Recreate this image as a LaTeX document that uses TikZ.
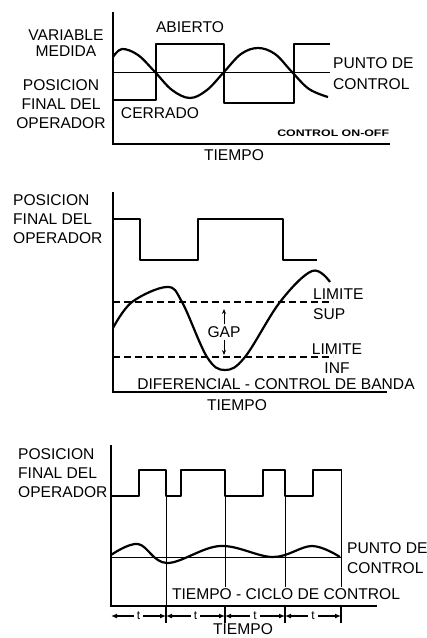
\documentclass[tikz,border=0pt]{standalone}
\usepackage{fontspec}
\setmainfont{Liberation Sans}
\usetikzlibrary{arrows.meta}
\tikzset{
  lbl/.style={inner sep=0pt, font=\fontsize{15.6}{19}\selectfont},
  axis/.style={line width=1.8pt},
  wave/.style={line width=2.2pt, line join=round},
  setline/.style={line width=1pt},
  band/.style={line width=1.6pt, dash pattern=on 7pt off 4pt},
  guide/.style={line width=0.8pt},
  tick/.style={line width=1.4pt}
}
\begin{document}
\begin{tikzpicture}[x=1pt,y=-1pt]
      \useasboundingbox (0,0) rectangle (427,638);
      \draw
        (113,12) coordinate (top1)
        (113,144) coordinate (org1)
        (390,144) coordinate (end1)
        (113,72) coordinate (spl1)
        (330,72) coordinate (spr1)
        (113,192) coordinate (top2)
        (113,392) coordinate (org2)
        (387,392) coordinate (end2)
        (113,302) coordinate (supl)
        (333,302) coordinate (supr)
        (113,357) coordinate (infl)
        (333,357) coordinate (infr)
        (224,309) coordinate (gapup)
        (224,355) coordinate (gapdn)
        (111,445) coordinate (top3)
        (111,606) coordinate (org3)
        (377,606) coordinate (end3)
        (111,557) coordinate (spl3)
        (341,557) coordinate (spr3);
      \draw
        (66,43) node[lbl, align=center, font=\fontsize{15.6}{16}\selectfont] (var){VARIABLE\\MEDIDA}
        (61,104) node[lbl, align=center] (pos1){POSICION\\FINAL DEL\\OPERADOR}
        (190,27) node[lbl] (abierto){ABIERTO}
        (160,113) node[lbl] (cerrado){CERRADO}
        (333,74) node[lbl, anchor=west, align=left, font=\fontsize{15.6}{21}\selectfont] (pc1){PUNTO DE\\CONTROL}
        (277,133) node[lbl, anchor=west, xscale=1.3, font=\fontsize{9.5}{11}\selectfont\bfseries] (onoff){CONTROL ON-OFF}
        (234,155) node[lbl] (tiempo1){TIEMPO}
        (13,219) node[lbl, anchor=west, align=left] (pos2){POSICION\\FINAL DEL\\OPERADOR}
        (313,304) node[lbl, anchor=west, align=left, font=\fontsize{15.6}{20}\selectfont] (sup){LIMITE\\SUP}
        (337,359) node[lbl, align=center, font=\fontsize{15.6}{19}\selectfont] (inf){LIMITE\\INF}
        (224,332) node[lbl, inner sep=2pt] (gap){GAP}
        (276,384) node[lbl] (dif){DIFERENCIAL - CONTROL DE BANDA}
        (237,405) node[lbl] (tiempo2){TIEMPO}
        (18,473) node[lbl, anchor=west, align=left] (pos3){POSICION\\FINAL DEL\\OPERADOR}
        (347,558) node[lbl, anchor=west, align=left, font=\fontsize{15.6}{20}\selectfont] (pc3){PUNTO DE\\CONTROL}
        (286,594) node[lbl] (ciclo){TIEMPO - CICLO DE CONTROL}
        (243,629.5) node[lbl] (tiempo3){TIEMPO};
      \draw[axis] (top1) -- (org1) -- (end1);
      \draw[axis] (top2) -- (org2) -- (end2);
      \draw[axis] (top3) -- (org3) -- (end3);
      \draw[setline] (spl1) -- (spr1);
      \draw[setline] (spl3) -- (spr3);
      \draw[band] (supl) -- (supr);
      \draw[band] (infl) -- (infr);
      \draw[wave] (113,100) -- (156,100) -- (156,44) -- (224,44) -- (224,103)
        -- (294,103) -- (294,44) -- (330,44);
      \draw[wave] plot[smooth, tension=0.6] coordinates {(113,57) (122,49) (138,55) (155,72)
        (172,90) (190,98) (207,90) (224,72) (241,54) (258,48) (275,54) (292,72) (309,89) (328,97)};
      \draw[wave] (113,219) -- (140,219) -- (140,260) -- (198,260) -- (198,219)
        -- (283,219) -- (283,260) -- (317,260);
      \draw[wave] plot[smooth, tension=0.6] coordinates {(113,328) (132,302) (167,287) (182,302)
        (207,357) (225,370) (245,357) (280,302) (312,271) (330,282)};
      \draw[wave] (111,496) -- (139,496) -- (139,470) -- (166,470) -- (166,496) -- (181,496)
        -- (181,470) -- (225,470) -- (225,496) -- (263,496) -- (263,470) -- (285,470)
        -- (285,496) -- (313,496) -- (313,470) -- (342,470);
      \draw[wave] plot[smooth, tension=0.6] coordinates {(111,555) (138,544) (167,563)
        (220,546) (273,557) (312,546) (340,557)};
      \draw
        (166,496) coordinate (g1a) (166,606) coordinate (g1b)
        (225,470) coordinate (g2a) (225,587) coordinate (g2b)
        (285,496) coordinate (g3a) (285,587) coordinate (g3b)
        (341,470) coordinate (g4a) (341,587) coordinate (g4b)
        (111,616) coordinate (k0)
        (166,616) coordinate (k1)
        (225,616) coordinate (k2)
        (285,616) coordinate (k3)
        (341,616) coordinate (k4)
        (166,605) coordinate (k1a) (166,623) coordinate (k1b)
        (225,605) coordinate (k2a) (225,623) coordinate (k2b)
        (285,605) coordinate (k3a) (285,623) coordinate (k3b)
        (341,605) coordinate (k4a) (341,623) coordinate (k4b);
      \begin{scope}[guide]
        \draw (g1a) to (g1b);
        \draw (g2a) to (g2b);
        \draw (g3a) to (g3b);
        \draw (g4a) to (g4b);
      \end{scope}
      \begin{scope}[tick]
        \draw (k1a) to (k1b);
        \draw (k2a) to (k2b);
        \draw (k3a) to (k3b);
        \draw (k4a) to (k4b);
      \end{scope}
      \begin{scope}[line width=1.3pt, {Latex[length=6pt,width=5pt]}-{Latex[length=6pt,width=5pt]}]
        \draw (k0) to node[lbl, fill=white, inner sep=3pt, font=\fontsize{12}{12}\selectfont] (t1){t} (k1);
        \draw (k1) to node[lbl, fill=white, inner sep=3pt, font=\fontsize{12}{12}\selectfont] (t2){t} (k2);
        \draw (k2) to node[lbl, fill=white, inner sep=3pt, font=\fontsize{12}{12}\selectfont] (t3){t} (k3);
        \draw (k3) to node[lbl, fill=white, inner sep=3pt, font=\fontsize{12}{12}\selectfont] (t4){t} (k4);
      \end{scope}
      \begin{scope}[line width=0.8pt, -{Stealth[length=5pt,width=4pt]}]
        \draw (gap) to (gapup);
        \draw (gap) to (gapdn);
      \end{scope}
    \end{tikzpicture}
\end{document}
